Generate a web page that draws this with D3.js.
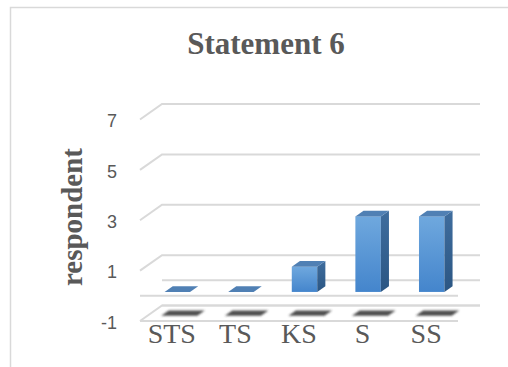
<!DOCTYPE html>
<html>
<head>
<meta charset="utf-8">
<script src="https://cdn.jsdelivr.net/npm/d3@7"></script>
<style>
  html, body { margin: 0; padding: 0; background: #ffffff; overflow: hidden; }
  svg { display: block; }
</style>
</head>
<body>
<svg id="chart" width="508" height="367"></svg>
<script>
// Responses per answer option
const categories = ["STS", "TS", "KS", "S", "SS"];
const values = [0, 0, 1, 3, 3];
const yTicks = [-1, 1, 3, 5, 7];
const chartTitle = "Statement 6";
const yTitle = "respondent";

const svg = d3.select("#chart");

// 3D box: back wall spans x0..x1, depth projects to (DX, DY)
const x0 = 162, x1 = 480;
const DX = -22, DY = 15.5;
const y = d3.scaleLinear().domain([-1, 7]).range([305.5, 104]);
const x = d3.scaleBand().domain(categories).range([x0, x1])
  .paddingInner(0.6).paddingOuter(0.3);

const defs = svg.append("defs");
const grad = defs.append("linearGradient").attr("id", "barFront")
  .attr("x1", 0).attr("y1", 0).attr("x2", 0).attr("y2", 1);
grad.append("stop").attr("offset", "0%").attr("stop-color", "#6fa8de");
grad.append("stop").attr("offset", "100%").attr("stop-color", "#4485cc");
const gradSide = defs.append("linearGradient").attr("id", "barSide")
  .attr("x1", 0).attr("y1", 0).attr("x2", 0).attr("y2", 1);
gradSide.append("stop").attr("offset", "0%").attr("stop-color", "#3f6d9e");
gradSide.append("stop").attr("offset", "100%").attr("stop-color", "#2b5683");
defs.append("filter").attr("id", "soft")
  .attr("x", "-30%").attr("y", "-100%").attr("width", "160%").attr("height", "300%")
  .append("feGaussianBlur").attr("stdDeviation", 1.1);

// chart area border
svg.append("rect")
  .attr("x", 10.5).attr("y", 7.5).attr("width", 600).attr("height", 400)
  .attr("fill", "none").attr("stroke", "#d9d9d9").attr("stroke-width", 1.5);

// title
svg.append("text")
  .attr("x", 266).attr("y", 54)
  .attr("text-anchor", "middle")
  .attr("font-family", "'Liberation Serif', 'DejaVu Serif', serif")
  .attr("font-weight", "bold").attr("font-size", 31)
  .attr("fill", "#595959")
  .text(chartTitle);

// y-axis title
svg.append("text")
  .attr("transform", "translate(82,217) rotate(-90)")
  .attr("text-anchor", "middle")
  .attr("font-family", "'Liberation Serif', 'DejaVu Serif', serif")
  .attr("font-weight", "bold").attr("font-size", 29)
  .attr("fill", "#595959")
  .text(yTitle);

const grid = svg.append("g")
  .attr("stroke", "#d9d9d9").attr("stroke-width", 2).attr("fill", "none");

// back wall gridlines with side-wall diagonals
yTicks.forEach(v => {
  grid.append("path")
    .attr("d", `M${x0 + DX},${y(v) + DY}L${x0},${y(v)}L${x1},${y(v)}`);
});
// floor edges at 0 and at the axis minimum
[0, -1].forEach(v => {
  grid.append("line")
    .attr("x1", x0).attr("x2", x1).attr("y1", y(v)).attr("y2", y(v));
  grid.append("line")
    .attr("x1", x0 + DX).attr("x2", x1 + DX)
    .attr("y1", y(v) + DY).attr("y2", y(v) + DY);
});

// tick labels
svg.append("g")
  .attr("font-family", "'Liberation Sans', 'DejaVu Sans', sans-serif")
  .attr("font-size", 18).attr("fill", "#595959")
  .selectAll("text").data(yTicks).join("text")
  .attr("x", 117).attr("y", d => y(d) + DY + 1.5)
  .attr("dy", "0.35em").attr("text-anchor", "end")
  .text(d => d);

// blurred floor shadows
const sA = 0.32, sB = 0.66, sHalf = 18;
svg.append("g").attr("filter", "url(#soft)")
  .selectAll("path").data(categories).join("path")
  .attr("fill", "#3a3a3a").attr("opacity", 0.9)
  .attr("d", c => {
    const cx = x(c) + x.bandwidth() / 2;
    const yb = y(-1);
    const ax = cx + DX * sA, ay = yb + DY * sA;
    const bx = cx + DX * sB, by = yb + DY * sB;
    return `M${ax - sHalf},${ay}L${ax + sHalf},${ay}L${bx + sHalf},${by}L${bx - sHalf},${by}Z`;
  });

// bars
const fF = 0.75, fB = 0.38;
const w = x.bandwidth();
const bars = svg.append("g").selectAll("g").data(categories.map((c, i) => ({ c, v: values[i] })))
  .join("g");

bars.each(function(d) {
  const g = d3.select(this);
  const fx = x(d.c) + DX * fF, kx = x(d.c) + DX * fB;
  const fyV = y(d.v) + DY * fF, fy0 = y(0) + DY * fF;
  const kyV = y(d.v) + DY * fB, ky0 = y(0) + DY * fB;
  if (d.v > 0) {
    g.append("rect")
      .attr("x", fx).attr("y", fyV).attr("width", w).attr("height", fy0 - fyV)
      .attr("fill", "url(#barFront)");
    g.append("path")
      .attr("d", `M${fx + w},${fyV}L${kx + w},${kyV}L${kx + w},${ky0}L${fx + w},${fy0}Z`)
      .attr("fill", "url(#barSide)");
  }
  g.append("path")
    .attr("d", `M${fx},${fyV}L${fx + w},${fyV}L${kx + w},${kyV}L${kx},${kyV}Z`)
    .attr("fill", "#5080b4");
});

// category labels
svg.append("g")
  .attr("font-family", "'Liberation Serif', 'DejaVu Serif', serif")
  .attr("font-size", 28).attr("fill", "#595959")
  .selectAll("text").data(categories).join("text")
  .attr("x", c => x(c) + w / 2 + DX)
  .attr("y", 343)
  .attr("text-anchor", "middle")
  .text(c => c);
</script>
</body>
</html>
